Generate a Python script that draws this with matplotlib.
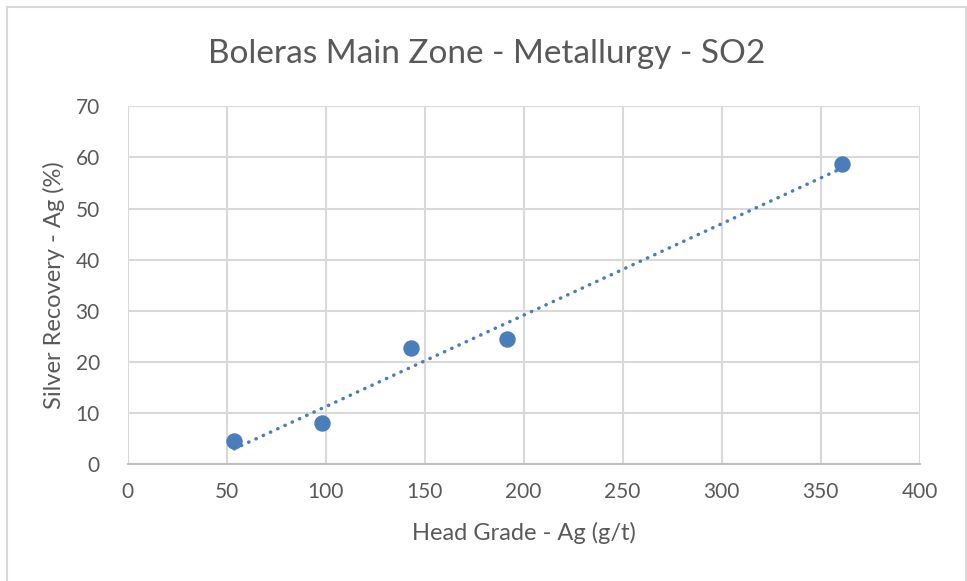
import numpy as np
import matplotlib.pyplot as plt
from matplotlib.patches import Rectangle

# head grade (g/t) vs silver recovery (%)
head_grade = [53.8, 98.0, 142.9, 191.7, 360.8]
recovery = [4.6, 8.0, 22.7, 24.4, 58.7]

title = "Boleras Main Zone - Metallurgy - SO2"
x_label = "Head Grade - Ag (g/t)"
y_label = "Silver Recovery - Ag (%)"
x_ticks = [0, 50, 100, 150, 200, 250, 300, 350, 400]
y_ticks = [0, 10, 20, 30, 40, 50, 60, 70]

TXT = "#595959"
GRID = "#d9d9d9"
BLUE = "#4a7ebb"

plt.rcParams["font.family"] = ["Lato", "DejaVu Sans"]

fig = plt.figure(figsize=(9.67, 5.81), dpi=100)
ax = fig.add_axes([0.132, 0.201, 0.819, 0.616])

# chart area border (Excel style)
fig.patches.append(Rectangle((7 / 967, -0.1), 959 / 967, 1.1 - 7 / 581,
                             transform=fig.transFigure, fill=False,
                             edgecolor=GRID, lw=1.5))

# linear trendline over the data range
slope, icept = np.polyfit(head_grade, recovery, 1)
xs = np.array([min(head_grade), max(head_grade)])
ax.plot(xs, slope * xs + icept, color=BLUE, lw=2.5,
        linestyle=(0, (0.1, 2.2)), dash_capstyle="round", zorder=3)

ax.scatter(head_grade, recovery, s=140, color=BLUE, zorder=4, linewidths=0)

ax.set_xlim(0, 400)
ax.set_ylim(0, 70)
ax.set_xticks(x_ticks)
ax.set_yticks(y_ticks)
ax.grid(True, color=GRID, lw=1.5)
ax.set_axisbelow(True)
for side in ["top", "right", "left"]:
    ax.spines[side].set_visible(False)
ax.spines["bottom"].set_color("#bfbfbf")
ax.spines["bottom"].set_linewidth(1.5)
ax.tick_params(length=0, labelsize=15, colors=TXT, pad=13)
ax.tick_params(axis="y", pad=20)

ax.set_xlabel(x_label, fontsize=17, color=TXT, labelpad=14)
ax.set_ylabel(y_label, fontsize=17, color=TXT, labelpad=8)
fig.text(0.503, 0.907, title, ha="center", va="center", fontsize=24,
         color=TXT)

fig.savefig("out.png", dpi=100)
